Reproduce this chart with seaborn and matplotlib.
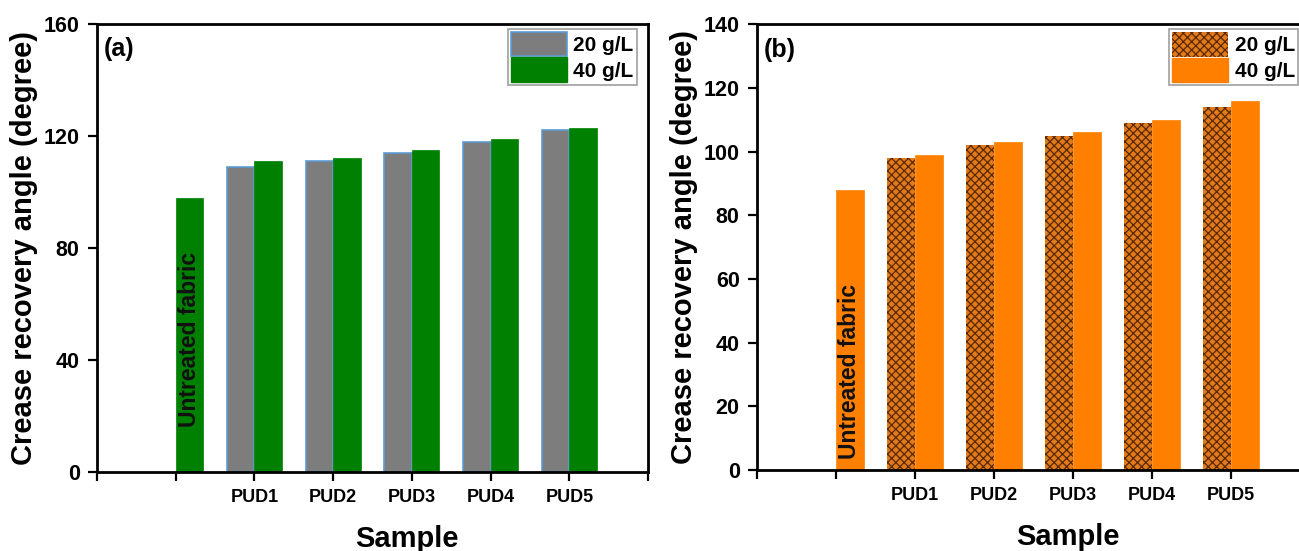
import numpy as np
import pandas as pd
import matplotlib
matplotlib.use("Agg")
import matplotlib.pyplot as plt
from matplotlib.patches import Patch
import seaborn as sns

# data
samples = ["Untreated", "PUD1", "PUD2", "PUD3", "PUD4", "PUD5"]
concs = ["20 g/L", "40 g/L"]
a_20 = [np.nan, 109, 111, 114, 118, 122]   # untreated fabric has only one bar
a_40 = [98, 111, 112, 115, 119, 123]
b_20 = [np.nan, 98, 102, 105, 109, 114]
b_40 = [88, 99, 103, 106, 110, 116]
xtick_labels = ["", "", "PUD1", "PUD2", "PUD3", "PUD4", "PUD5", ""]
a_yticks = [0, 40, 80, 120, 160]
b_yticks = [0, 20, 40, 60, 80, 100, 120, 140]

sns.set_style("ticks")
plt.rcParams["font.family"] = ["Liberation Sans", "DejaVu Sans"]
plt.rcParams["font.weight"] = "bold"
plt.rcParams["hatch.linewidth"] = 0.9
plt.rcParams["text.color"] = "black"
plt.rcParams["axes.labelcolor"] = "black"
plt.rcParams["xtick.color"] = "black"
plt.rcParams["ytick.color"] = "black"


def long_df(v20, v40):
    df = pd.DataFrame({"sample": samples, "20 g/L": v20, "40 g/L": v40})
    df = df.melt(id_vars="sample", var_name="conc", value_name="angle")
    return df.dropna()


def draw_panel(ax, df, solid, hatched_style, yticks, ymax, tag, text_y):
    sns.barplot(data=df, x="sample", y="angle", hue="conc", order=samples,
                hue_order=concs, palette=[hatched_style["facecolor"], solid],
                width=0.7, saturation=1, errorbar=None, legend=False, ax=ax)
    for cont in ax.containers:
        if len(cont.patches) == 5:  # 20 g/L series
            for p in cont.patches:
                p.set_facecolor(hatched_style["facecolor"])
                p.set_edgecolor(hatched_style["edgecolor"])
                p.set_linewidth(hatched_style["lw"])
                p.set_hatch(hatched_style["hatch"])
        else:
            for p in cont.patches:
                p.set_edgecolor(solid)
                p.set_linewidth(0.5)

    ax.set_xlim(-1, 6)
    ax.set_ylim(0, ymax)
    ax.set_xticks(range(-1, 7))
    ax.set_xticklabels(xtick_labels, fontsize=13, fontweight="bold")
    ax.set_yticks(yticks)
    ax.set_yticklabels([str(t) for t in yticks], fontsize=15.5, fontweight="bold")
    ax.tick_params(axis="both", direction="out", length=6.5, width=1.6, pad=6,
                   colors="black")
    for s in ax.spines.values():
        s.set_visible(True)
        s.set_linewidth(2.0)
        s.set_color("black")

    ax.set_ylabel("Crease recovery angle (degree)", fontsize=21, fontweight="bold")
    ax.set_xlabel("Sample", fontsize=21, fontweight="bold")
    ax.xaxis.set_label_coords(0.562, -0.118)

    ax.text(0.013, 0.97, tag, transform=ax.transAxes, fontsize=18,
            fontweight="bold", ha="left", va="top")
    ax.text(0.175, text_y, "Untreated fabric", rotation=90, ha="center",
            va="bottom", fontsize=16.5, fontweight="bold", color="#111111")

    handles = [Patch(facecolor=hatched_style["facecolor"], edgecolor=hatched_style["edgecolor"],
                     linewidth=hatched_style["lw"], hatch=hatched_style["hatch"]),
               Patch(facecolor=solid, edgecolor=solid)]
    leg = ax.legend(handles, concs, loc="upper left", bbox_to_anchor=(0.745, 0.99),
                    fontsize=15, frameon=True, fancybox=False, handlelength=2.7,
                    handleheight=1.45, labelspacing=0.05, borderpad=0.15,
                    handletextpad=0.3, borderaxespad=0)
    leg.get_frame().set_edgecolor("#888888")
    leg.get_frame().set_linewidth(1.2)
    for t in leg.get_texts():
        t.set_fontweight("bold")


fig = plt.figure(figsize=(12.99, 5.51), dpi=100)
ax_a = fig.add_axes([0.0747, 0.1434, 0.4242, 0.813])
ax_b = fig.add_axes([0.5828, 0.147, 0.4257, 0.809])

draw_panel(ax_a, long_df(a_20, a_40), "#008000",
           {"facecolor": "#7d7d7d", "edgecolor": "#5b9bd5", "lw": 1.2, "hatch": None},
           a_yticks, 160, "(a)", 16)
draw_panel(ax_b, long_df(b_20, b_40), "#ff8000",
           {"facecolor": "#e07a1a", "edgecolor": "#5a2800", "lw": 0, "hatch": "xxxx"},
           b_yticks, 140, "(b)", 3.5)

fig.savefig("out.png", dpi=100)
